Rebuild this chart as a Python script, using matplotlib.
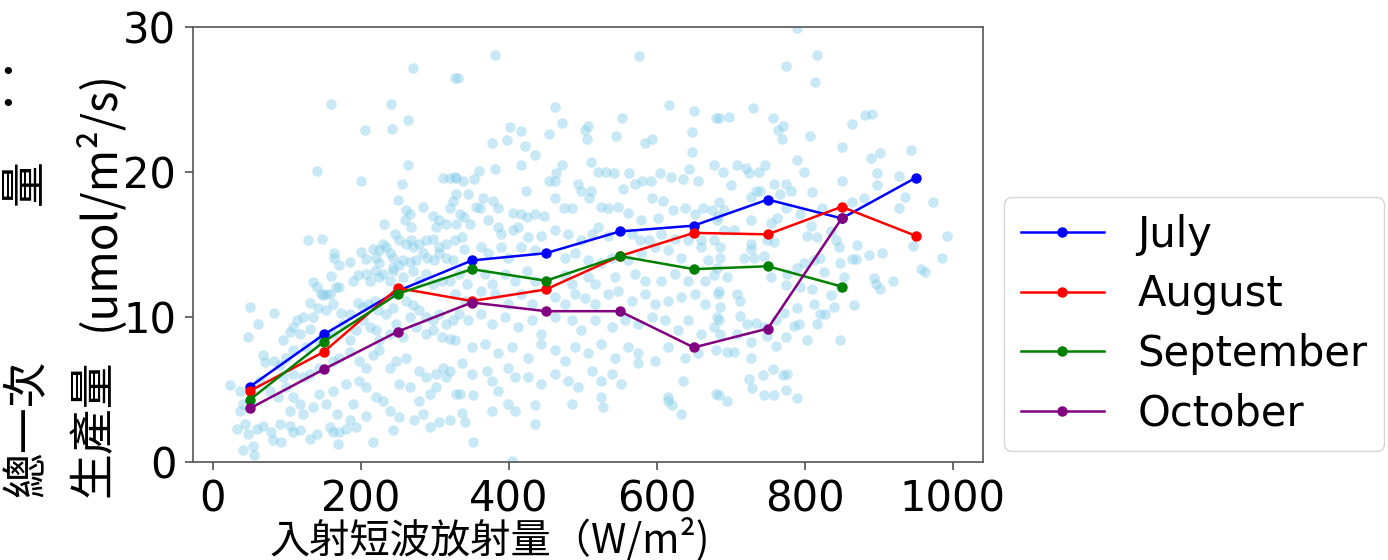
import matplotlib
matplotlib.use("Agg")
import matplotlib.pyplot as plt
import numpy as np

# ---------------- data ----------------
bins = [50, 150, 250, 350, 450, 550, 650, 750, 850, 950]
july = [5.2, 8.8, 11.8, 13.9, 14.4, 15.9, 16.3, 18.1, 16.8, 19.6]
august = [4.9, 7.6, 12.0, 11.1, 11.9, 14.2, 15.8, 15.7, 17.6, 15.6]
september = [4.3, 8.3, 11.6, 13.3, 12.5, 14.2, 13.3, 13.5, 12.1]
october = [3.7, 6.4, 9.0, 11.0, 10.4, 10.4, 7.9, 9.2, 16.8]

scatter_x = [
    270, 327, 160, 240, 205, 242, 263, 141, 200, 263, 255, 250, 311, 320, 329,
    261, 266, 259, 268, 284, 297, 306, 302, 315, 324, 320, 329, 231, 246, 129, 148,
    230, 234, 225, 239, 243, 252, 261, 268, 270, 279, 288, 297, 306, 315,
    163, 164, 170, 185, 200, 207, 216, 221, 225, 243, 252, 257, 266, 275, 284, 290, 299, 306, 315, 324,
    159, 166, 153, 149, 158, 171, 189, 196, 207, 212, 219, 225, 230, 239, 243, 257, 270, 279, 288, 297, 309, 320,
    135, 140, 146, 131, 142, 153, 162, 173, 185, 196, 203, 210, 219, 223, 234, 243,
    261, 270, 279, 288, 297, 306, 315, 324, 266, 275, 288, 297, 309, 320,
    50, 83, 61, 47,
    113, 122, 108, 95, 104, 117, 131, 135, 126, 144, 162, 176, 185, 194, 203, 212, 221, 225, 239, 248, 257,
    68, 70, 83, 90, 99, 108, 95, 108, 122, 131, 144, 162, 171, 185, 198, 207, 216, 225, 239, 248, 261, 279, 288, 302, 311, 320,
    23, 36, 41, 36, 63, 77, 88, 99, 108, 117, 104, 122, 135, 144, 153, 162, 167, 180, 189, 198, 207, 221, 230, 239, 252, 266, 279, 293, 302, 315, 329,
    32, 43, 47, 59, 68, 79, 81, 92, 90, 104, 108, 117, 131, 140, 158, 162, 171, 180, 185, 194, 207, 216, 243, 252, 272, 284, 293, 306, 320,
    41, 54, 56, 169,
    381, 576, 331, 463, 616, 650, 553, 680,
    402, 417, 397, 377, 422, 435,
    454, 472, 507, 503, 506, 545, 584, 593, 647, 647,
    417, 381, 359, 353, 338, 327,
    472, 464, 454, 462, 511, 521, 532, 542, 563, 580, 592, 605, 619, 635, 643, 656, 677,
    345, 365, 379, 386, 361, 356, 340, 334, 329, 347, 372, 386,
    423, 406, 417, 424, 435, 448, 462, 475, 485, 494, 498, 509, 511, 525, 534, 548, 554, 570, 561, 579, 593, 602, 608, 622, 638, 651, 662, 674, 683,
    390, 406, 413, 426, 444, 462, 480, 498, 512, 521, 534, 566, 577, 590, 606, 624, 642, 660, 678,
    327, 336, 340, 363, 372, 390, 399, 417, 435, 476, 489, 507, 525, 539, 561, 579, 597, 615, 633, 660, 669,
    332, 343, 368, 377, 395, 408, 424, 435, 476, 485, 507, 516, 543, 570, 584, 606, 624, 642, 665, 678,
    327, 341, 363, 381, 399, 417, 431, 462, 476, 489, 503, 516, 534, 548, 566, 584, 597, 615, 633, 651, 665, 683,
    332, 345, 363, 377, 395, 413, 431, 444, 462, 485, 498, 516, 539, 557, 575, 593, 611, 629, 642, 660, 678,
    327, 350, 368, 386, 404, 426, 444, 462, 476, 489, 507, 525, 543, 561, 575, 597, 615, 638, 656, 680,
    336, 350, 370, 377, 399, 408, 426, 444, 462, 480, 494, 512, 525, 539, 552, 575, 615, 635, 680,
    334, 352, 377, 386, 399, 408, 435, 485, 525, 527, 615, 620, 633, 336, 341, 435, 352, 404,
    789, 816, 774, 814, 730, 684, 698, 757, 771, 764, 769, 807, 864, 881, 891, 850, 902, 889, 944, 789, 799,
    708, 689, 720, 725, 738, 746, 700,
    759, 774, 781, 767, 740, 734, 727, 810, 851, 864, 880, 898, 927, 898, 935, 927, 974, 992,
    684, 691, 682, 691, 704, 727, 754, 763, 774, 794, 808, 817, 803, 824, 835, 842, 846, 871, 887, 904, 864, 869, 947, 957, 963, 986, 920, 894, 896, 902,
    686, 686, 682, 695, 718, 731, 745, 727, 727, 749, 758, 790, 799, 826, 812, 821, 848, 853, 848, 866, 835, 839, 812, 828, 821, 790, 772, 754, 776, 794, 810, 774,
    684, 709, 713, 686, 682, 684, 713, 722, 734, 745, 761, 785, 792, 817, 848, 803, 774, 761, 749, 727, 709, 686, 695, 704, 727,
    725, 743, 757, 770, 776, 729, 745, 759, 774, 789, 695, 684,
]
scatter_y = [
    27.2, 26.5, 24.7, 24.7, 22.9, 23.0, 23.6, 20.1, 19.4, 20.5, 19.2, 18.1, 19.6, 19.6, 19.6,
    17.4, 17.1, 16.7, 16.2, 17.6, 17.0, 16.7, 16.2, 16.4, 18.0, 17.5, 18.5, 16.4, 15.7, 15.3, 15.4,
    15.05, 14.8, 14.6, 14.4, 14.1, 15.3, 15.05, 15.3, 14.8, 15.05, 15.3, 15.4, 14.8, 15.05,
    14.4, 14.1, 13.6, 13.8, 14.5, 14.0, 14.7, 14.1, 13.7, 13.4, 13.6, 13.9, 13.8, 13.9, 14.4, 14.1, 13.9, 14.4, 14.1, 13.9,
    12.8, 12.1, 11.6, 11.5, 11.6, 12.1, 12.5, 12.9, 13.0, 12.5, 13.2, 12.75, 13.0, 12.5, 13.2, 12.75, 13.2, 12.5, 13.0, 12.3, 12.5, 12.5,
    12.4, 12.1, 11.6, 11.0, 10.6, 10.45, 10.9, 10.3, 10.2, 11.0, 10.7, 10.9, 11.1, 10.45, 10.2, 10.6,
    11.1, 10.8, 10.45, 10.0, 9.8, 10.2, 9.5, 9.8, 10.0, 9.3, 8.8, 9.1, 8.6, 8.5,
    10.7, 10.3, 9.5, 8.6,
    9.8, 10.0, 9.3, 8.4, 9.0, 8.8, 9.2, 10.0, 7.9, 8.4, 8.8, 9.5, 8.4, 9.1, 9.8, 9.3, 9.1, 8.4, 8.8, 9.5, 8.6,
    7.35, 6.9, 7.0, 6.7, 7.2, 7.7, 5.85, 6.1, 5.85, 6.1, 6.5, 7.0, 7.2, 7.6, 7.0, 6.5, 7.35, 7.7, 6.5, 7.0, 7.2, 6.3, 5.85, 6.1, 6.5, 6.3,
    5.3, 4.9, 4.0, 3.55, 5.6, 4.9, 4.5, 5.2, 4.5, 4.0, 3.55, 3.3, 3.8, 4.7, 4.0, 4.9, 3.3, 5.4, 4.0, 5.6, 5.2, 4.5, 4.2, 3.55, 5.4, 5.2, 4.2, 4.7, 5.2, 5.85, 4.7,
    2.3, 2.6, 1.95, 2.3, 2.5, 2.05, 1.5, 1.4, 2.6, 2.5, 2.05, 2.2, 1.6, 1.95, 2.4, 2.05, 2.05, 2.3, 2.9, 2.4, 3.2, 1.4, 2.2, 3.1, 2.9, 3.3, 2.4, 2.75, 2.9,
    0.8, 1.1, 0.45, 1.25,
    28.1, 28.0, 26.5, 24.5, 24.6, 24.2, 23.7, 23.7,
    23.1, 22.8, 22.2, 22.0, 21.8, 21.2,
    22.6, 23.4, 23.2, 22.9, 22.3, 22.5, 22.0, 22.25, 22.75, 21.4,
    20.5, 20.2, 20.1, 19.5, 19.4, 19.65,
    20.5, 19.9, 19.4, 19.4, 20.7, 20.0, 20.0, 19.9, 19.9, 19.4, 19.4, 19.95, 19.65, 19.5, 20.2, 19.4, 20.5,
    18.5, 18.2, 18.0, 17.5, 17.5, 17.6, 16.9, 17.1, 16.4, 16.4, 16.7, 16.2,
    18.7, 17.2, 17.1, 16.9, 17.1, 17.0, 18.2, 17.5, 17.5, 19.2, 18.7, 18.2, 18.7, 17.6, 17.5, 17.6, 18.8, 19.2, 17.2, 16.7, 18.2, 16.8, 18.0, 17.35, 17.5, 17.1, 17.5, 17.35, 17.0,
    15.7, 16.0, 16.2, 15.5, 15.6, 16.0, 15.7, 15.3, 15.7, 16.2, 15.6, 15.7, 15.3, 15.3, 15.7, 15.4, 15.3, 14.8, 15.3,
    15.3, 15.5, 14.7, 14.8, 14.4, 14.8, 14.1, 14.8, 14.6, 14.1, 14.4, 13.9, 13.7, 14.1, 13.9, 14.4, 14.8, 14.6, 14.1, 15.3, 13.9,
    13.0, 12.3, 13.0, 12.3, 13.0, 12.5, 13.2, 12.5, 12.9, 12.3, 12.75, 12.3, 12.75, 13.0, 12.5, 12.5, 13.0, 12.5, 12.5, 12.9,
    11.6, 11.1, 11.8, 11.6, 10.9, 11.6, 10.9, 11.4, 10.9, 11.6, 11.3, 10.9, 11.6, 11.8, 11.1, 11.6, 10.9, 11.1, 11.4, 11.6, 10.9, 11.6,
    10.2, 9.8, 10.2, 9.5, 10.0, 9.3, 9.8, 8.8, 10.0, 9.8, 9.1, 9.8, 9.3, 9.8, 9.5, 10.0, 9.8, 9.1, 9.8, 8.8, 9.3,
    8.4, 7.9, 8.15, 7.5, 7.9, 7.2, 8.15, 7.7, 7.0, 7.9, 7.5, 8.15, 7.2, 7.9, 7.5, 7.0, 7.9, 7.2, 7.5, 7.7,
    6.8, 6.1, 6.3, 5.6, 6.5, 5.85, 5.85, 5.4, 6.1, 5.6, 5.15, 6.3, 5.6, 6.1, 5.4, 6.8, 4.5, 5.6, 4.7,
    4.7, 4.6, 3.55, 4.9, 4.0, 3.55, 3.9, 4.0, 4.5, 3.8, 4.2, 3.9, 3.3, 3.4, 2.75, 2.6, 1.4, 0.1,
    29.9, 28.1, 27.3, 26.2, 24.4, 23.7, 23.8, 23.7, 23.2, 22.9, 22.3, 22.5, 23.3, 23.9, 24.0, 21.7, 21.3, 21.0, 21.5, 20.8, 20.0,
    20.5, 20.0, 20.3, 19.9, 20.0, 20.5, 19.1,
    19.2, 19.2, 18.7, 18.5, 18.7, 18.7, 18.3, 18.6, 19.35, 17.9, 18.2, 19.9, 19.7, 19.1, 18.3, 17.5, 17.9, 15.6,
    17.9, 17.35, 16.7, 16.0, 16.0, 16.7, 16.5, 16.8, 17.5, 17.1, 16.3, 15.5, 15.6, 17.5, 15.9, 15.3, 14.8, 15.0, 14.3, 14.4, 14.0, 14.0, 14.9, 13.3, 13.1, 14.1, 12.5, 12.7, 12.3, 11.9,
    14.8, 14.1, 13.4, 12.75, 14.1, 14.1, 14.2, 15.05, 14.7, 15.3, 15.2, 13.4, 13.7, 13.1, 13.9, 14.1, 13.7, 12.75, 12.1, 10.8, 11.5, 10.7, 10.9, 10.2, 10.2, 10.6, 10.3, 12.75, 13.0, 12.1, 11.9, 12.2,
    11.8, 11.6, 11.1, 10.7, 10.0, 9.8, 10.1, 9.5, 9.6, 9.3, 9.8, 9.4, 9.5, 9.5, 8.4, 8.4, 8.6, 8.0, 8.7, 8.3, 8.8, 8.8, 7.6, 7.6, 7.2,
    5.7, 6.0, 6.4, 6.0, 6.1, 5.1, 4.6, 4.6, 5.0, 4.4, 4.2, 4.6,
]

x_ticks = [0, 200, 400, 600, 800, 1000]
y_ticks = [0, 10, 20, 30]

# ---------------- figure ----------------
W, H = 1388, 560
fig = plt.figure(figsize=(W / 100, H / 100), dpi=100)
ax = fig.add_axes([193 / W, 1 - 462 / H, (983 - 193) / W, (462 - 27) / H])

ax.scatter(scatter_x, scatter_y, s=58, color="skyblue", alpha=0.45, linewidths=0, zorder=1)

series = [("July", july, "blue"), ("August", august, "red"),
          ("September", september, "green"), ("October", october, "purple")]
for name, vals, col in series:
    ax.plot(bins[:len(vals)], vals, "-o", color=col, lw=1.8, ms=6.5, label=name, zorder=3)

ax.set_xlim(-27, 1041)
ax.set_ylim(0, 30)
ax.set_xticks(x_ticks)
ax.set_yticks(y_ticks)
ax.tick_params(labelsize=30, length=6, width=1.1, color="#444444", pad=6)
for sp in ax.spines.values():
    sp.set_color("#555555")
    sp.set_linewidth(1.2)

fig.legend(loc="upper left", bbox_to_anchor=(1004 / W, 1 - 197 / H), fontsize=30,
           borderaxespad=0, frameon=True, fancybox=True, edgecolor="#cccccc",
           borderpad=0.4, labelspacing=0.42, handlelength=2.0, handletextpad=0.8)

cjk = ["Noto Sans CJK TC", "DejaVu Sans"]
fig.text(490 / W, 1 - 540 / H, "入射短波放射量（W/m²)", family=cjk, fontsize=29,
         ha="center", va="center")

fig.text(27 / W, 1 - 428 / H, "總一次", family=cjk, fontsize=33, rotation=90,
         ha="center", va="center")
fig.text(93 / W, 1 - 428 / H, "生產量", family=cjk, fontsize=33, rotation=90,
         ha="center", va="center")
fig.text(100 / W, 1 - 200 / H, "(umol/m²/s)", family=cjk, fontsize=33, rotation=90,
         ha="center", va="center")
fig.text(24 / W, 1 - 182 / H, "量", family=cjk, fontsize=33, rotation=90,
         ha="center", va="center")
fig.text(8 / W, 1 - 73 / H, "•", fontsize=18, ha="center", va="center")
fig.text(8 / W, 1 - 105 / H, "•", fontsize=18, ha="center", va="center")

fig.savefig("out.png", dpi=100)
